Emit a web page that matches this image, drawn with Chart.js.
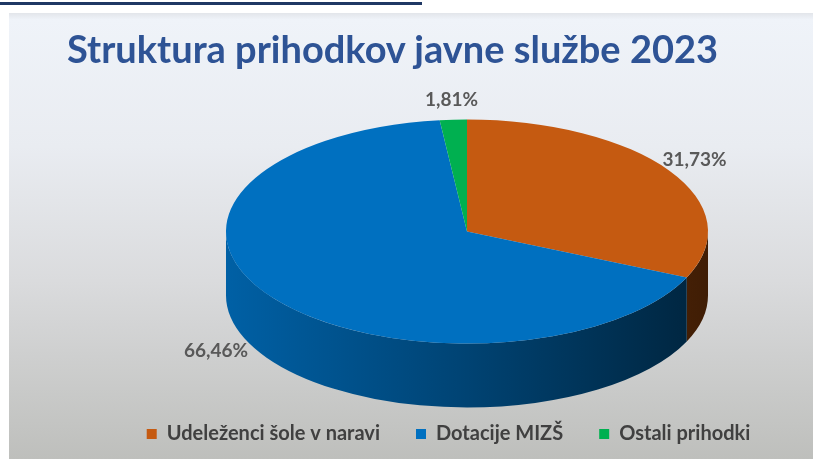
<!DOCTYPE html>
<html lang="sl">
<head>
<meta charset="utf-8">
<title>Struktura prihodkov javne službe 2023</title>
<script src="https://cdn.jsdelivr.net/npm/chart.js@4.4.1/dist/chart.umd.min.js"></script>
<style>
  html, body { margin: 0; padding: 0; background: #fff; }
  body { width: 813px; height: 459px; position: relative; overflow: hidden; }
  .topline { position: absolute; left: 0; top: 2px; width: 422px; height: 3px; background: #1f3864; }
  .panel {
    position: absolute; left: 9px; top: 13px; width: 804px; height: 446px;
    background: linear-gradient(to bottom, #e2e5ea 0%, #eff3f9 1.5%, #e9ecf1 30%, #dadbdd 60%, #bebfbc 100%);
  }
  .title {
    position: absolute; left: 67px; top: 29px; white-space: nowrap;
    font: bold 38px/38px Lato, sans-serif; color: #2e5395;
  }
  canvas { display: block; position: absolute; left: 0; top: 0; }
</style>
</head>
<body>
<div class="topline"></div>
<div class="panel"><canvas id="chart" width="804" height="446"></canvas></div>
<div class="title">Struktura prihodkov javne službe 2023</div>
<script>
const categories = ['Udeleženci šole v naravi', 'Dotacije MIZŠ', 'Ostali prihodki'];
const shares = [31.73, 66.46, 1.81];
const sliceColors = ['#c55a11', '#0070c0', '#00b050'];

function shade(hex, f) {
  const n = parseInt(hex.slice(1), 16);
  const r = Math.round(((n >> 16) & 255) * f);
  const g = Math.round(((n >> 8) & 255) * f);
  const b = Math.round((n & 255) * f);
  return `rgb(${r},${g},${b})`;
}

// fake 3D: squash the pie into an ellipse and add a front wall
const pie3d = {
  id: 'pie3d',
  geom(chart) {
    const o = chart.options.plugins.pie3d;
    const arcs = chart.getDatasetMeta(0).data;
    const a = arcs[0];
    return { arcs, x: a.x, y: a.y, r: a.outerRadius, cx: a.x + o.shiftX, cy: a.y + o.shiftY, rx: o.rx, ry: o.ry, depth: o.depth };
  },
  beforeDatasetsDraw(chart) {
    const ctx = chart.ctx;
    const g = this.geom(chart);
    g.arcs.forEach((arc, i) => {
      const s = Math.max(arc.startAngle, 0);
      const e = Math.min(arc.endAngle, Math.PI);
      if (e <= s) return;
      const base = sliceColors[i];
      const grad = ctx.createLinearGradient(g.cx - g.rx, 0, g.cx + g.rx, 0);
      grad.addColorStop(0, shade(base, 0.86));
      grad.addColorStop(0.5, shade(base, 0.6));
      grad.addColorStop(1, shade(base, 0.32));
      ctx.beginPath();
      ctx.ellipse(g.cx, g.cy, g.rx, g.ry, 0, s, e, false);
      ctx.ellipse(g.cx, g.cy + g.depth, g.rx, g.ry, 0, e, s, true);
      ctx.closePath();
      ctx.fillStyle = grad;
      ctx.fill();
    });
    ctx.save();
    ctx.translate(g.cx, g.cy);
    ctx.scale(g.rx / g.r, g.ry / g.r);
    ctx.translate(-g.x, -g.y);
  },
  afterDatasetsDraw(chart) {
    const ctx = chart.ctx;
    ctx.restore();
    const g = this.geom(chart);
    const o = chart.options.plugins.pie3d;
    ctx.save();
    ctx.font = o.labelFont;
    ctx.fillStyle = o.labelColor;
    ctx.textBaseline = 'middle';
    g.arcs.forEach((arc, i) => {
      const t = (arc.startAngle + arc.endAngle) / 2;
      const c = Math.cos(t), s = Math.sin(t);
      const x = g.cx + (g.rx + o.labelDx) * c;
      const y = g.cy + (g.ry + o.labelDy) * s + (s > 0 ? g.depth * o.frontDrop : 0);
      ctx.textAlign = c < -0.5 ? 'right' : 'center';
      ctx.fillText(shares[i].toFixed(2).replace('.', ',') + '%', x, y);
    });
    ctx.restore();
  }
};

new Chart(document.getElementById('chart'), {
  type: 'pie',
  data: {
    labels: categories,
    datasets: [{
      data: shares,
      backgroundColor: sliceColors,
      borderWidth: 0,
      clip: false
    }]
  },
  options: {
    responsive: false,
    animation: false,
    events: [],
    layout: { padding: { left: 75, right: 0, top: 0, bottom: 5 } },
    plugins: {
      title: { display: false },
      legend: {
        position: 'bottom',
        labels: {
          color: '#404040',
          font: { family: 'Lato', size: 20, weight: 'bold' },
          boxWidth: 10,
          boxHeight: 10,
          padding: 36
        }
      },
      tooltip: { enabled: false },
      pie3d: {
        rx: 241,
        ry: 112,
        depth: 64,
        shiftX: 18.5,
        shiftY: 31,
        labelDx: 30,
        labelDy: 20,
        frontDrop: 0.65,
        labelFont: 'bold 19px Lato',
        labelColor: '#595959'
      }
    }
  },
  plugins: [pie3d]
});
</script>
</body>
</html>
